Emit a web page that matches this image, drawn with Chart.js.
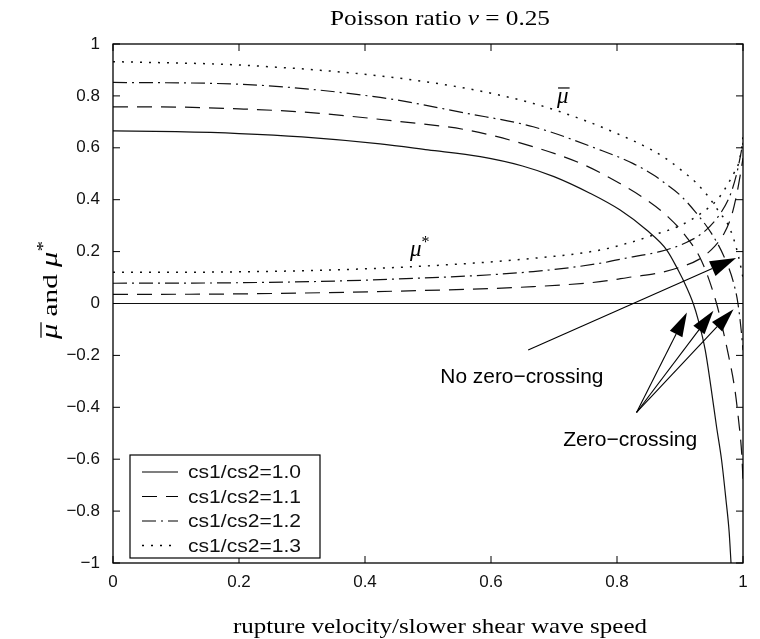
<!DOCTYPE html>
<html>
<head>
<meta charset="utf-8">
<script src="https://cdn.jsdelivr.net/npm/chart.js@4.4.1/dist/chart.umd.min.js"></script>
<style>
  html, body { margin: 0; padding: 0; background: #fff; }
  canvas { display: block; }
</style>
</head>
<body>
<canvas id="muChart" width="760" height="639"></canvas>
<script>
// rupture velocity / slower shear wave speed
const ratioLabels = ['cs1/cs2=1.0', 'cs1/cs2=1.1', 'cs1/cs2=1.2', 'cs1/cs2=1.3'];

// cs1/cs2 = 1.0
const xMuBar10 = [0, 0.1, 0.2, 0.3, 0.424, 0.5, 0.583, 0.65, 0.7, 0.757, 0.805, 0.847, 0.879, 0.897, 0.91, 0.921, 0.929, 0.94, 0.949, 0.958, 0.966, 0.973, 0.978, 0.981];
const muBar10  = [0.665, 0.662, 0.655, 0.642, 0.615, 0.592, 0.566, 0.53, 0.489, 0.425, 0.36, 0.283, 0.206, 0.129, 0.065, 0.0, -0.064, -0.179, -0.32, -0.475, -0.603, -0.757, -0.88, -1.0];
const xMuStar10 = [0, 1];
const muStar10  = [0, 0];

// cs1/cs2 = 1.1
const xMuBar11 = [0, 0.1, 0.2, 0.3, 0.456, 0.561, 0.667, 0.747, 0.799, 0.847, 0.881, 0.91, 0.935, 0.958, 0.968, 0.977, 0.987, 0.993, 0.998, 1.0];
const muBar11  = [0.758, 0.757, 0.75, 0.738, 0.701, 0.669, 0.604, 0.535, 0.47, 0.399, 0.334, 0.257, 0.16, 0.0, -0.1, -0.2, -0.33, -0.45, -0.58, -0.68];
const xMuStar11 = [0, 0.2, 0.456, 0.667, 0.773, 0.825, 0.863, 0.9, 0.93, 0.955, 0.97, 0.982, 0.99, 0.996, 1.0];
const muStar11  = [0.035, 0.037, 0.048, 0.065, 0.084, 0.103, 0.116, 0.14, 0.17, 0.22, 0.27, 0.34, 0.42, 0.5, 0.56];

// cs1/cs2 = 1.2
const xMuBar12 = [0, 0.2, 0.424, 0.561, 0.667, 0.773, 0.825, 0.858, 0.873, 0.9, 0.924, 0.95, 0.97, 0.985, 0.992, 0.997, 1.0];
const muBar12  = [0.852, 0.845, 0.794, 0.733, 0.681, 0.592, 0.54, 0.495, 0.469, 0.418, 0.354, 0.27, 0.18, 0.08, 0.0, -0.1, -0.18];
const xMuStar12 = [0, 0.2, 0.424, 0.667, 0.773, 0.825, 0.868, 0.91, 0.94, 0.965, 0.98, 0.99, 0.996, 1.0];
const muStar12  = [0.078, 0.08, 0.092, 0.123, 0.155, 0.18, 0.2, 0.235, 0.28, 0.35, 0.42, 0.5, 0.57, 0.62];

// cs1/cs2 = 1.3
const xMuBar13 = [0, 0.2, 0.424, 0.561, 0.667, 0.747, 0.799, 0.855, 0.881, 0.902, 0.924, 0.945, 0.963, 0.975, 0.985, 0.993, 1.0];
const muBar13  = [0.932, 0.919, 0.877, 0.829, 0.771, 0.707, 0.656, 0.592, 0.553, 0.514, 0.469, 0.412, 0.35, 0.31, 0.25, 0.18, 0.1];
const xMuStar13 = [0, 0.2, 0.424, 0.667, 0.773, 0.825, 0.858, 0.9, 0.935, 0.961, 0.971, 0.979, 0.986, 0.993, 0.998, 1.0];
const muStar13  = [0.12, 0.122, 0.136, 0.174, 0.206, 0.238, 0.264, 0.3, 0.35, 0.405, 0.44, 0.473, 0.504, 0.54, 0.6, 0.645];

const xTicks = [0, 0.2, 0.4, 0.6, 0.8, 1];
const yTicks = [-1, -0.8, -0.6, -0.4, -0.2, 0, 0.2, 0.4, 0.6, 0.8, 1];

// line styles per ratio
const dashes = [[], [15, 9], [14, 5, 2, 5], [2, 7]];

const serif = '"Liberation Serif", "DejaVu Serif", serif';
const sans = '"Liberation Sans", Arial, sans-serif';

const toPts = (xs, ys) => xs.map((v, i) => ({ x: v, y: ys[i] }));
const barSets = [[xMuBar10, muBar10], [xMuBar11, muBar11], [xMuBar12, muBar12], [xMuBar13, muBar13]];
const starSets = [[xMuStar10, muStar10], [xMuStar11, muStar11], [xMuStar12, muStar12], [xMuStar13, muStar13]];

const datasets = [];
ratioLabels.forEach((lab, i) => {
  const style = {
    borderColor: '#111',
    borderWidth: i === 3 ? 1.5 : 1.2,
    borderDash: dashes[i],
    pointRadius: 0,
    fill: false,
    cubicInterpolationMode: 'monotone'
  };
  datasets.push(Object.assign({ label: lab + ' mu-bar', data: toPts(...barSets[i]) }, style));
  datasets.push(Object.assign({ label: lab + ' mu-star', data: toPts(...starSets[i]) }, style));
});

// annotation positions (data units)
const noCrossFrom = [0.659, -0.179], noCrossTo = [0.989, 0.175];
const crossFrom = [0.831, -0.42];
const crossTips = [[0.911, -0.035], [0.953, -0.028], [0.985, -0.022]];

// draws text pieces centred on cx; fitW stretches the run to a given width
function drawParts(ctx, parts, cx, cy, fitW) {
  let w = 0;
  parts.forEach(p => { ctx.font = p.f; p.w = ctx.measureText(p.t).width; w += p.w; });
  const k = fitW ? fitW / w : 1;
  ctx.save();
  ctx.translate(cx - (w * k) / 2, cy);
  ctx.scale(k, 1);
  let x = 0;
  parts.forEach(p => {
    ctx.font = p.f;
    ctx.fillText(p.t, x, p.dy || 0);
    if (p.bar) {
      ctx.beginPath();
      ctx.lineWidth = 1.2;
      ctx.moveTo(x + 1, -p.bar);
      ctx.lineTo(x + p.w + 1, -p.bar);
      ctx.stroke();
    }
    x += p.w;
  });
  ctx.restore();
}

function arrow(ctx, x0, y0, x1, y1, len, half) {
  const ang = Math.atan2(y1 - y0, x1 - x0);
  const bx = x1 - len * Math.cos(ang), by = y1 - len * Math.sin(ang);
  ctx.beginPath();
  ctx.moveTo(x0, y0);
  ctx.lineTo(bx, by);
  ctx.stroke();
  ctx.beginPath();
  ctx.moveTo(x1, y1);
  ctx.lineTo(bx + half * Math.sin(ang), by - half * Math.cos(ang));
  ctx.lineTo(bx - half * Math.sin(ang), by + half * Math.cos(ang));
  ctx.closePath();
  ctx.fill();
}

const decor = {
  id: 'decor',
  beforeDraw(chart) {
    const ctx = chart.ctx;
    ctx.save();
    ctx.fillStyle = '#fff';
    ctx.fillRect(0, 0, chart.width, chart.height);
    ctx.restore();
  },
  afterDraw(chart) {
    const { ctx, chartArea: a, scales: { x, y } } = chart;
    ctx.save();
    ctx.strokeStyle = '#000';
    ctx.fillStyle = '#000';
    ctx.setLineDash([]);

    // frame and inward ticks
    ctx.lineWidth = 1.3;
    ctx.strokeRect(a.left, a.top, a.right - a.left, a.bottom - a.top);
    ctx.lineWidth = 1;
    ctx.beginPath();
    xTicks.forEach(v => {
      const px = x.getPixelForValue(v);
      ctx.moveTo(px, a.bottom); ctx.lineTo(px, a.bottom - 7);
      ctx.moveTo(px, a.top); ctx.lineTo(px, a.top + 7);
    });
    yTicks.forEach(v => {
      const py = y.getPixelForValue(v);
      ctx.moveTo(a.left, py); ctx.lineTo(a.left + 7, py);
      ctx.moveTo(a.right, py); ctx.lineTo(a.right - 7, py);
    });
    ctx.stroke();

    // arrows
    ctx.lineWidth = 1.1;
    arrow(ctx, x.getPixelForValue(noCrossFrom[0]), y.getPixelForValue(noCrossFrom[1]),
      x.getPixelForValue(noCrossTo[0]), y.getPixelForValue(noCrossTo[1]), 26, 8);
    crossTips.forEach(t => {
      arrow(ctx, x.getPixelForValue(crossFrom[0]), y.getPixelForValue(crossFrom[1]),
        x.getPixelForValue(t[0]), y.getPixelForValue(t[1]), 24, 7);
    });

    // annotation text
    ctx.textAlign = 'left';
    ctx.textBaseline = 'middle';
    drawParts(ctx, [{ t: 'No zero\u2212crossing', f: `21px ${sans}` }],
      x.getPixelForValue(0.649), y.getPixelForValue(-0.283), 163);
    drawParts(ctx, [{ t: 'Zero\u2212crossing', f: `21px ${sans}` }],
      x.getPixelForValue(0.821), y.getPixelForValue(-0.526), 134);

    ctx.textBaseline = 'alphabetic';
    drawParts(ctx, [{ t: '\u03bc', f: `italic 23px ${serif}`, bar: 15 }],
      x.getPixelForValue(0.714), y.getPixelForValue(0.792) + 5);
    drawParts(ctx, [{ t: '\u03bc', f: `italic 23px ${serif}` }, { t: '*', f: `16px ${serif}`, dy: -9 }],
      x.getPixelForValue(0.487), y.getPixelForValue(0.195) + 3);

    // title and axis labels
    drawParts(ctx, [
      { t: 'Poisson ratio ', f: `22px ${serif}` },
      { t: '\u03bd', f: `italic 22px ${serif}` },
      { t: ' = 0.25', f: `22px ${serif}` }
    ], 440, 25, 220);
    drawParts(ctx, [{ t: 'rupture velocity/slower shear wave speed', f: `22px ${serif}` }], 440, 633, 414);

    ctx.save();
    ctx.translate(57, 290);
    ctx.rotate(-Math.PI / 2);
    drawParts(ctx, [
      { t: '\u03bc', f: `italic 23px ${serif}`, bar: 16 },
      { t: ' and ', f: `22px ${serif}` },
      { t: '\u03bc', f: `italic 23px ${serif}` },
      { t: '*', f: `16px ${serif}`, dy: -9 }
    ], 0, 0, 98);
    ctx.restore();

    // legend box
    const lx = a.left + 17, ly = a.bottom - 108, lw = 190, lh = 103;
    ctx.fillStyle = '#fff';
    ctx.fillRect(lx, ly, lw, lh);
    ctx.lineWidth = 1.2;
    ctx.strokeRect(lx, ly, lw, lh);
    ctx.fillStyle = '#111';
    ctx.textBaseline = 'middle';
    ratioLabels.forEach((lab, i) => {
      const ry = ly + 17 + i * 24.5;
      ctx.setLineDash(dashes[i]);
      ctx.lineWidth = i === 3 ? 1.5 : 1.2;
      ctx.beginPath();
      ctx.moveTo(lx + 12, ry);
      ctx.lineTo(lx + 48, ry);
      ctx.stroke();
      ctx.setLineDash([]);
      drawParts(ctx, [{ t: lab, f: `19px ${sans}` }], lx + 58 + 56.5, ry + 1, 113);
    });
    ctx.restore();
  }
};

const fmt = v => (Math.round(v * 10) / 10).toString().replace('-', '\u2212');

new Chart(document.getElementById('muChart').getContext('2d'), {
  type: 'line',
  data: { datasets },
  options: {
    responsive: false,
    animation: false,
    devicePixelRatio: 1,
    layout: { padding: { top: 44, right: 17, left: 0, bottom: 0 } },
    plugins: {
      legend: { display: false },
      tooltip: { enabled: false }
    },
    scales: {
      x: {
        type: 'linear',
        min: 0, max: 1,
        afterFit: s => { s.height = 76; },
        afterBuildTicks: s => { s.ticks = xTicks.map(v => ({ value: v })); },
        grid: { display: false, drawTicks: false },
        border: { display: false },
        ticks: { color: '#111', padding: 9, maxRotation: 0, font: { family: sans, size: 17 }, callback: fmt }
      },
      y: {
        type: 'linear',
        min: -1, max: 1,
        afterFit: s => { s.width = 113; },
        afterBuildTicks: s => { s.ticks = yTicks.map(v => ({ value: v })); },
        grid: { display: false, drawTicks: false },
        border: { display: false },
        ticks: { color: '#111', padding: 13, font: { family: sans, size: 17 }, callback: fmt }
      }
    }
  },
  plugins: [decor]
});
</script>
</body>
</html>
